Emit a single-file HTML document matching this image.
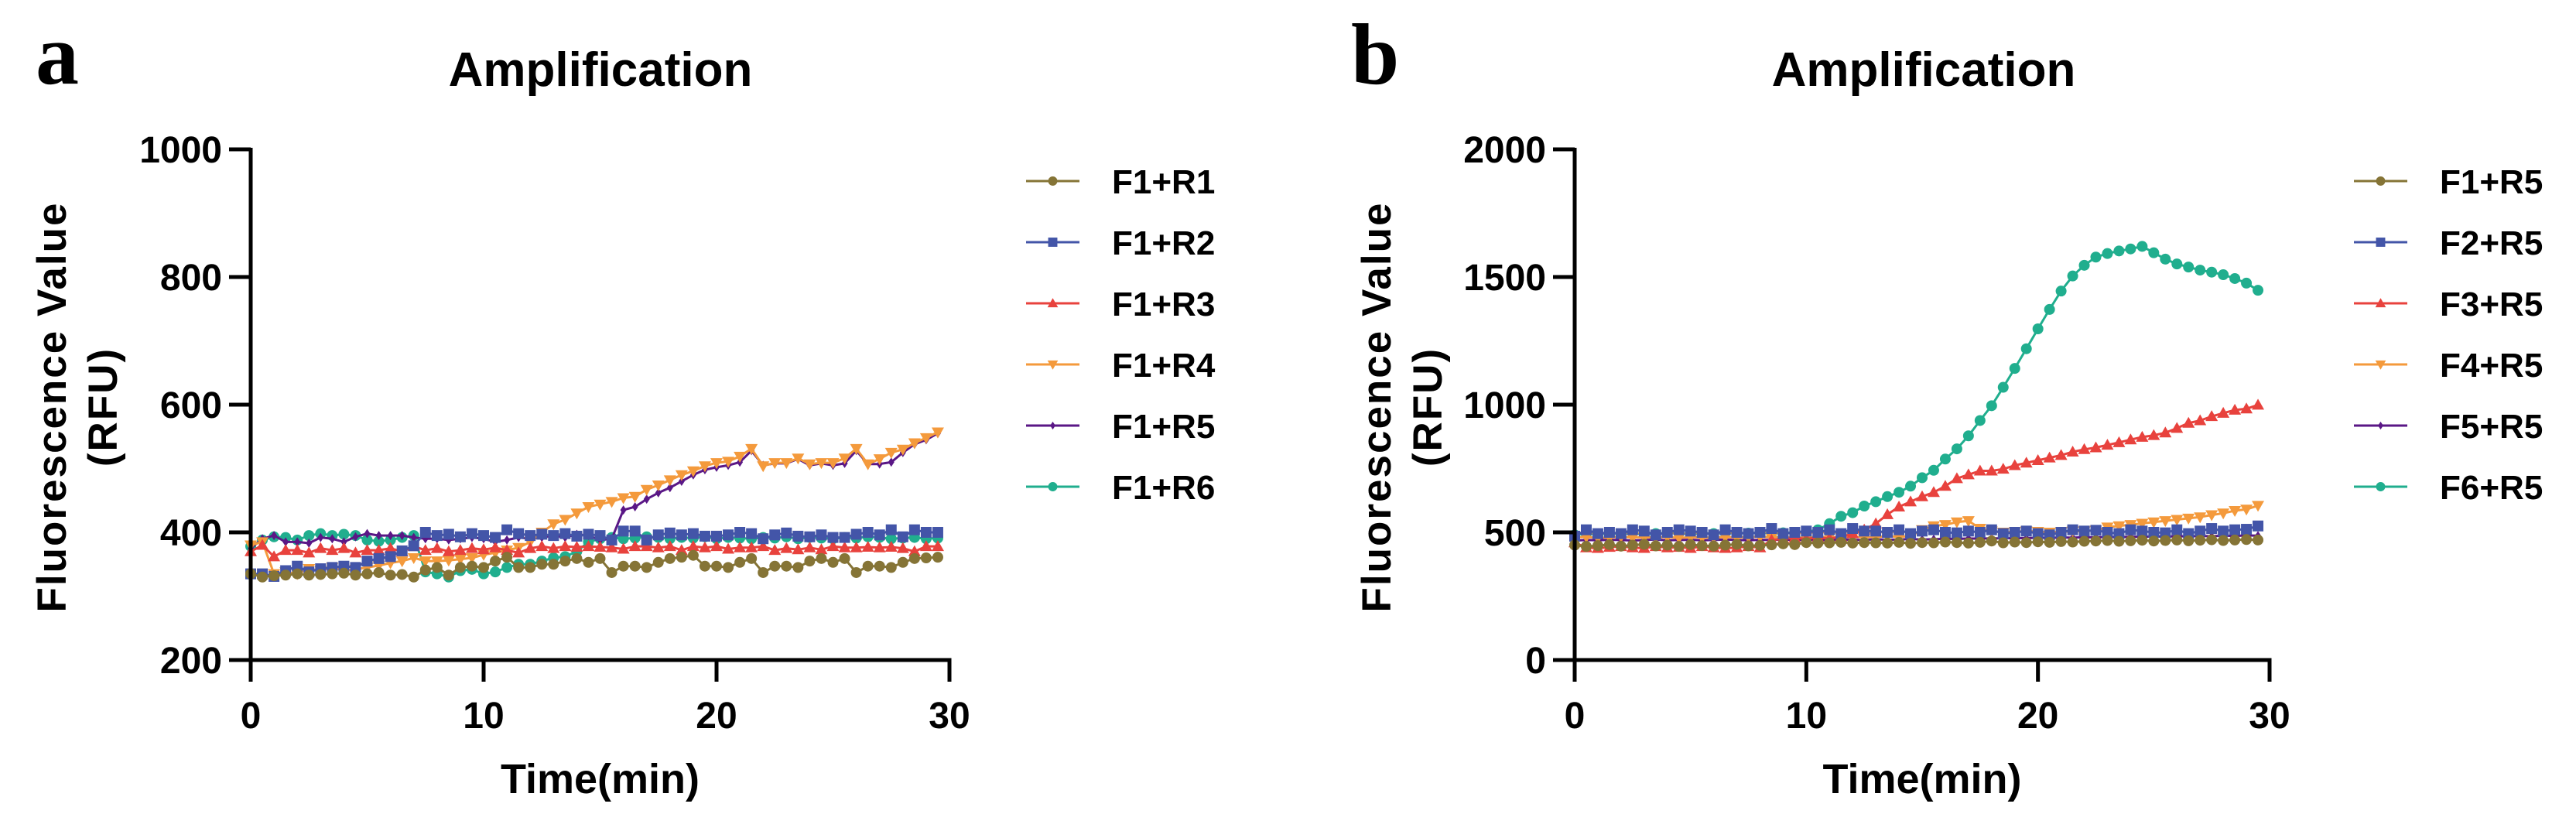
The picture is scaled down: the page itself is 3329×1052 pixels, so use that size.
<!DOCTYPE html>
<html><head><meta charset="utf-8"><style>
html,body{margin:0;padding:0;background:#fff;}
svg{display:block;}
text{font-family:"Liberation Sans",Arial,sans-serif;font-weight:bold;fill:#000;}
</style></head>
<body>
<svg id="fig" width="3329" height="1052" viewBox="0 0 3329 1052" xmlns="http://www.w3.org/2000/svg"></svg>
<script>
// ---- shared data ----
const times = Array.from({length:60},(_,i)=>i*0.5);
const xTicks = [0,10,20,30];
const yTicksA = [200,400,600,800,1000];
const yTicksB = [0,500,1000,1500,2000];
const legendA = ["F1+R1","F1+R2","F1+R3","F1+R4","F1+R5","F1+R6"];
const legendB = ["F1+R5","F2+R5","F3+R5","F4+R5","F5+R5","F6+R5"];
// ---- panel a values ----
const a1 = [335,330,332,333,335,333,334,335,336,333,335,337,333,334,330,341,345,333,345,347,345,355,361,345,345,350,350,355,359,353,359,337,347,347,345,353,359,361,364,347,347,345,353,359,337,347,347,345,355,359,353,359,337,347,347,345,353,359,360,361];
const a2 = [335,335,331,340,347,338,343,345,347,345,355,359,362,371,379,400,395,397,393,398,395,392,404,398,395,397,395,398,394,397,395,388,402,402,388,396,399,396,398,394,394,396,400,398,390,396,399,394,393,396,392,392,397,400,396,404,393,404,400,400];
const a3 = [370,380,362,372,372,368,375,372,375,368,372,372,375,370,378,372,375,370,372,375,373,376,372,368,375,378,375,378,377,378,377,376,374,378,378,376,378,372,378,376,378,374,376,376,378,372,375,373,376,373,378,376,376,377,376,377,375,370,378,378];
const a4 = [380,385,335,338,335,343,340,345,340,342,345,348,352,355,360,355,355,356,358,360,365,368,372,376,385,400,413,420,430,440,444,448,454,456,467,474,482,490,496,504,509,511,519,531,504,509,509,516,507,509,509,516,531,507,515,525,530,540,548,557];
const a5 = [375,390,395,385,385,383,392,390,385,393,398,395,395,395,392,390,390,388,390,392,390,385,388,392,390,392,395,392,397,395,388,390,435,440,452,462,470,480,490,498,502,505,510,528,505,508,508,515,505,508,505,508,528,507,507,510,525,538,545,555];
const a6 = [378,388,393,392,388,395,398,395,397,395,388,386,388,392,395,338,335,330,340,342,335,338,345,350,350,355,360,362,370,385,390,392,390,391,393,392,390,392,391,393,390,392,391,390,392,391,393,390,392,391,390,392,391,393,392,390,391,392,390,391];
// ---- panel b values ----
const b1 = [450,445,448,452,446,450,453,447,450,445,452,448,446,450,453,447,449,451,455,452,460,458,459,461,458,460,459,458,461,457,460,459,462,460,458,461,466,459,462,460,463,461,464,462,465,466,468,465,467,469,466,468,470,467,469,471,468,470,472,470];
const b2 = [485,510,495,500,495,510,505,490,500,510,505,500,490,510,500,495,500,515,495,500,505,500,510,495,515,505,505,500,510,495,505,510,500,498,505,500,510,495,500,505,495,490,500,510,505,508,500,495,510,505,500,498,510,495,505,515,505,510,512,525];
const b3 = [460,440,438,442,445,440,438,445,440,442,438,445,440,438,440,445,440,470,475,478,475,480,476,482,495,510,534,570,600,620,640,657,681,711,726,741,741,748,762,772,782,792,802,815,825,832,842,852,863,873,880,890,908,928,938,954,967,979,984,999];
const b4 = [480,482,478,480,483,479,481,480,482,478,481,480,479,482,480,481,483,480,482,479,480,482,481,480,483,481,482,484,483,485,510,525,530,540,545,515,505,500,502,505,503,500,502,504,505,508,520,525,530,535,540,545,550,555,560,568,575,585,590,605];
const b5 = [468,470,469,471,470,468,470,472,469,470,471,469,470,472,470,469,471,470,472,470,471,470,469,472,471,470,473,471,472,474,472,473,475,474,476,475,477,476,478,477,479,478,480,479,481,480,482,481,483,482,484,483,485,484,486,485,487,486,488,487];
const b6 = [490,495,492,496,494,497,493,495,498,496,494,497,495,498,496,497,499,496,498,500,502,510,534,563,577,603,620,640,657,681,714,743,787,827,878,938,996,1068,1142,1219,1297,1373,1445,1504,1546,1578,1592,1602,1610,1620,1595,1570,1551,1539,1527,1519,1509,1494,1476,1448];

const colors = ["#857436","#4355A8","#E8423D","#F49A3C","#5A1786","#20AE8E"];
const markers = ["circle","square","triangle","tridown","diamond","circle"];
const NS = "http://www.w3.org/2000/svg";
const svg = document.getElementById('fig');

function mk(tag, attrs, parent){
  const e = document.createElementNS(NS, tag);
  for (const k in attrs) e.setAttribute(k, attrs[k]);
  (parent||svg).appendChild(e);
  return e;
}
function marker(type, cx, cy, color, g, small){
  const s = small ? 0.85 : 1;
  let e;
  if (type==="circle") e = mk('circle',{cx:cx,cy:cy,r:7*s,fill:color},g);
  else if (type==="square") e = mk('rect',{x:cx-7*s,y:cy-7*s,width:14*s,height:14*s,fill:color},g);
  else if (type==="triangle") e = mk('polygon',{points:`${cx},${cy-8*s} ${cx+8*s},${cy+6*s} ${cx-8*s},${cy+6*s}`,fill:color},g);
  else if (type==="tridown") e = mk('polygon',{points:`${cx-8*s},${cy-6*s} ${cx+8*s},${cy-6*s} ${cx},${cy+8*s}`,fill:color},g);
  else e = mk('polygon',{points:`${cx},${cy-6*s} ${cx+4*s},${cy} ${cx},${cy+6*s} ${cx-4*s},${cy}`,fill:color},g);
  return e;
}

function panel(opt){
  const {x0,x1,y0,y1,ymin,ymax,yTicks,series,legend,title,titleX,letter,letterX,ytitleX,legX,name} = opt;
  const g = mk('g',{});
  
  
  const xs = t => x0 + (t/30)*(x1-x0);
  const ys = v => y0 - (v-ymin)/(ymax-ymin)*(y0-y1);

  const lt = mk('text',{x:letterX,y:108,'font-size':112,style:'font-family:"Liberation Serif",serif;font-weight:bold'},g);
  lt.textContent = letter;
  
  

  const tt = mk('text',{x:titleX,y:111,'font-size':62,'text-anchor':'middle'},g);
  tt.textContent = title;
  
  

  // series (reverse order so first on top)
  for (let s = series.length-1; s >= 0; s--){
    const sg = mk('g',{},g);
    
    
    const pts = series[s].map((v,i)=>xs(times[i]).toFixed(1)+','+ys(v).toFixed(1)).join(' ');
    mk('polyline',{points:pts,fill:'none',stroke:colors[s],'stroke-width':3,'stroke-linejoin':'round'},sg);
    series[s].forEach((v,i)=>{
      const m = marker(markers[s], xs(times[i]), ys(v), colors[s], sg, false);
      
      
    });
  }

  // axes
  const ax = mk('g',{},g);
  
  
  mk('line',{x1:x0,y1:y1-2,x2:x0,y2:y0+2.5,stroke:'#000','stroke-width':5},ax);
  mk('line',{x1:x0-2.5,y1:y0,x2:x1+2.5,y2:y0,stroke:'#000','stroke-width':5},ax);
  yTicks.forEach(v=>{
    mk('line',{x1:x0-28,y1:ys(v),x2:x0,y2:ys(v),stroke:'#000','stroke-width':5},ax);
    const t = mk('text',{x:x0-37,y:ys(v)+17,'font-size':48,'text-anchor':'end'},ax);
    t.textContent = v;
    
    
  });
  xTicks.forEach(v=>{
    mk('line',{x1:xs(v),y1:y0,x2:xs(v),y2:y0+28,stroke:'#000','stroke-width':5},ax);
    const t = mk('text',{x:xs(v),y:941,'font-size':48,'text-anchor':'middle'},ax);
    t.textContent = v;
    
    
  });
  const xt = mk('text',{x:(x0+x1)/2,y:1025,'font-size':54,'text-anchor':'middle'},g);
  xt.textContent = 'Time(min)';
  
  
  const cy = 526;
  const yt1 = mk('text',{x:0,y:0,'font-size':53,'text-anchor':'middle','letter-spacing':2,transform:`translate(${ytitleX},${cy}) rotate(-90)`},g);
  yt1.textContent = 'Fluorescence Value';
  
  
  const yt2 = mk('text',{x:0,y:0,'font-size':53,'text-anchor':'middle','letter-spacing':2,transform:`translate(${ytitleX+66},${cy}) rotate(-90)`},g);
  yt2.textContent = '(RFU)';
  
  

  // legend
  const lg = mk('g',{},g);
  
  
  legend.forEach((lab,i)=>{
    const ry = 234 + i*79;
    const le = mk('g',{},lg);
    
    
    mk('line',{x1:legX,y1:ry,x2:legX+69,y2:ry,stroke:colors[i],'stroke-width':3},le);
    marker(markers[i], legX+34.5, ry, colors[i], le, true);
    const t = mk('text',{x:legX+111,y:ry+16,'font-size':44},le);
    t.textContent = lab;
  });
}

panel({name:'panel-a',x0:324,x1:1227,y0:853,y1:193,ymin:200,ymax:1000,yTicks:yTicksA,
  series:[a1,a2,a3,a4,a5,a6],legend:legendA,title:'Amplification',titleX:776,
  letter:'a',letterX:46,ytitleX:85,legX:1326});
panel({name:'panel-b',x0:2035,x1:2933,y0:853,y1:193,ymin:0,ymax:2000,yTicks:yTicksB,
  series:[b1,b2,b3,b4,b5,b6],legend:legendB,title:'Amplification',titleX:2486,
  letter:'b',letterX:1746,ytitleX:1797,legX:3042});
</script>
</body></html>
